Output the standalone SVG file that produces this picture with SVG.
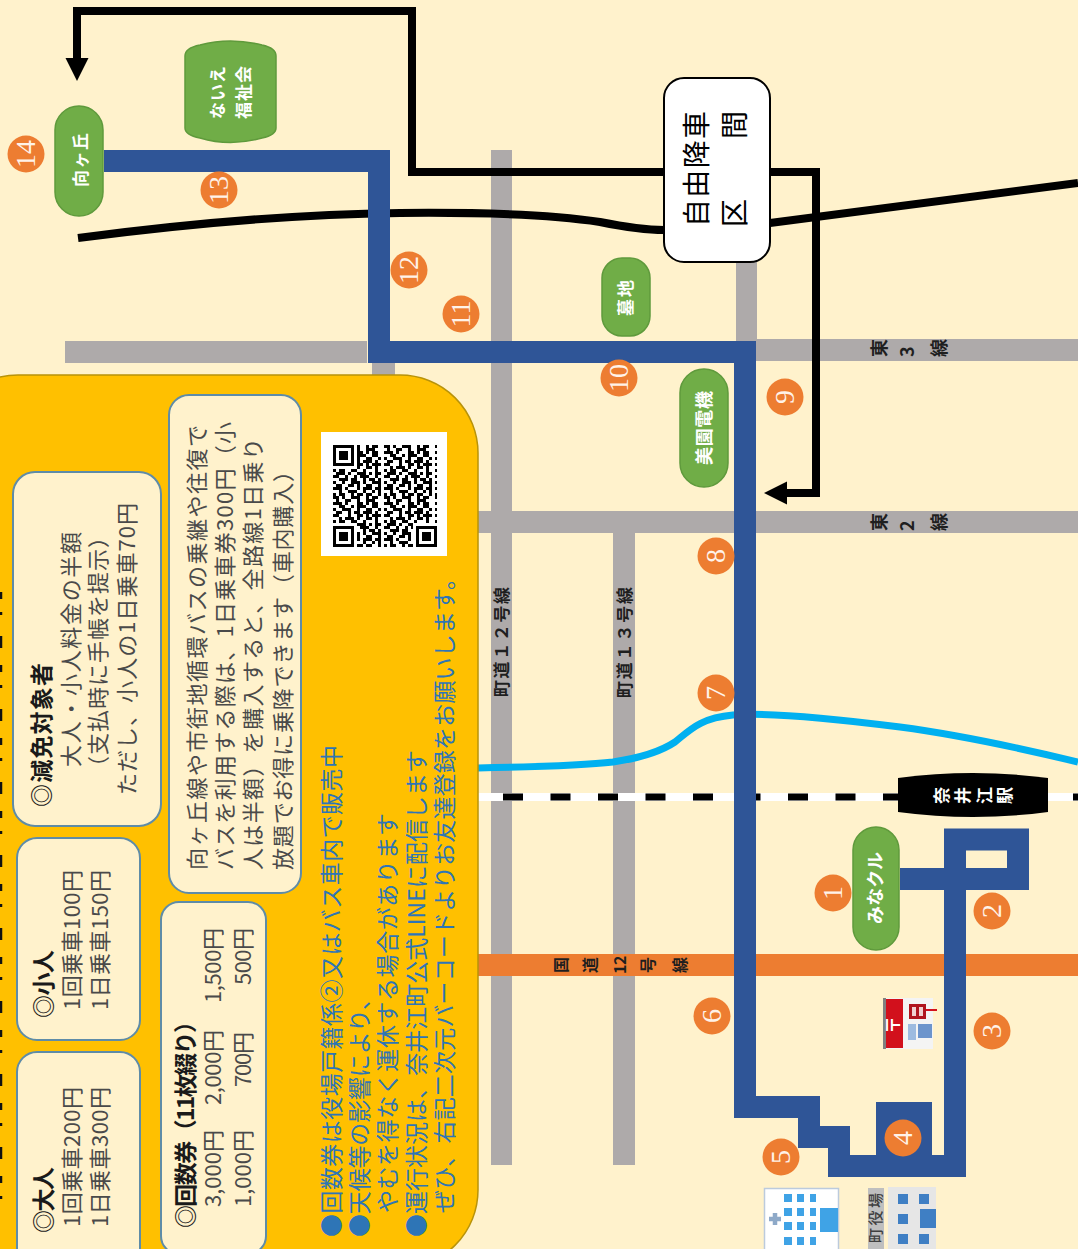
<svg xmlns="http://www.w3.org/2000/svg" width="1078" height="1249" viewBox="0 0 1078 1249">
<style>
text{font-family:"Noto Sans CJK JP","Noto Sans",sans-serif}
.road{fill:#AEAAAA}
.route{fill:none;stroke:#2F5597;stroke-width:22;stroke-linejoin:miter}
.blk{fill:none;stroke:#000;stroke-width:8}
.stop{fill:#70AD47;stroke:#5F9A3C;stroke-width:1.5}
.stxt{fill:#fff;font-weight:700}
.badge circle{fill:#ED7D31}
.badge text{fill:#FFF2E8;font-family:"Liberation Serif",serif;font-size:28px;text-anchor:middle}
.rl{fill:#1F1F1F;font-weight:700}
.box{fill:#FFF2CC;stroke:#5E8CA8;stroke-width:2}
.g{fill:#4A4A4A;font-size:22px}
.gb{fill:#1A1A1A;font-size:23px;font-weight:700}
.b{fill:#2E75B6;font-size:23px}
.win1{fill:#3FA3E6}
.win2{fill:#3F7FC4}
</style>
<defs>
<marker id="ah" markerUnits="userSpaceOnUse" markerWidth="24" markerHeight="24" refX="0" refY="11.5" orient="auto"><path d="M0 0L23 11.5L0 23z" fill="#000"/></marker>
<pattern id="qrp" patternUnits="userSpaceOnUse" x="333" y="445" width="51" height="51">
<path fill="none" stroke="#000" stroke-width="3" d="M0 1.5h6m3 0h3m6 0h9m6 0h3m3 0h6M3 4.5h3m6 0h6m6 0h3m6 0h9M0 7.5h9m3 0h3m9 0h6m3 0h3m3 0h6M6 10.5h6m6 0h3m3 0h9m6 0h6M0 13.5h3m6 0h9m6 0h3m6 0h6m6 0h3M3 16.5h6m6 0h3m3 0h6m3 0h9m3 0h3M0 19.5h6m9 0h3m6 0h6m3 0h3m3 0h9M6 22.5h3m3 0h9m3 0h3m6 0h6m3 0h3M0 25.5h3m3 0h6m6 0h6m6 0h3m9 0h3M3 28.5h9m3 0h3m6 0h9m3 0h3m3 0h6M0 31.5h6m6 0h3m6 0h3m3 0h9m6 0h3M6 34.5h9m3 0h6m6 0h3m3 0h6m3 0h3M0 37.5h3m6 0h3m6 0h9m3 0h3m6 0h9M3 40.5h6m6 0h6m3 0h3m6 0h6m6 0h3M0 43.5h9m3 0h3m9 0h3m3 0h9m3 0h6M6 46.5h3m6 0h9m6 0h3m6 0h3m3 0h3M0 49.5h3m3 0h6m6 0h3m3 0h6m3 0h6m6 0h3"/>
</pattern>
</defs>
<rect width="1078" height="1249" fill="#FFF2CC"/>

<g id="roads">
<rect class="road" x="491" y="150" width="21" height="1015"/>
<rect class="road" x="613" y="533" width="22" height="632"/>
<rect class="road" x="478" y="511" width="600" height="22"/>
<rect class="road" x="745" y="339" width="333" height="22"/>
<rect class="road" x="65" y="341" width="302" height="22"/>
<rect class="road" x="372" y="360" width="23" height="20"/>
<rect class="road" x="736" y="262" width="21" height="80"/>
<rect x="478" y="954" width="600" height="22" fill="#ED7D31"/>
<text class="rl" font-size="17" transform="translate(508,697) rotate(-90)" textLength="110">町道１２号線</text>
<text class="rl" font-size="17" transform="translate(631,698) rotate(-90)" textLength="111">町道１３号線</text>
<text class="rl" font-size="18" x="886 914 946" y="357" rotate="-90">東3線</text>
<text class="rl" font-size="18" x="886 914 946" y="531" rotate="-90">東2線</text>
<text class="rl" font-size="16" x="567 596 626 626 654 686" y="973 973 974 965 973 973" rotate="-90">国道12号線</text>
</g>

<g id="river"><path d="M478 768C530 767 580 766 613 762C640 758 660 752 675 742C690 730 700 718 733 715C770 712 830 718 900 727C960 735 1020 748 1078 762" fill="none" stroke="#00B0F0" stroke-width="7"/></g>

<g id="railway">
<rect x="478" y="793" width="600" height="8" fill="#fff"/>
<line x1="503" y1="797" x2="1078" y2="797" stroke="#000" stroke-width="7" stroke-dasharray="20 27.5"/>
</g>

<g id="connectors">
<path class="blk" d="M78 238C200 222 300 214 400 213C500 212 560 216 600 222C630 228 645 230 664 230"/>
<path class="blk" d="M770 223L1078 183"/>
<path class="blk" d="M816 172H412V11H77V58" marker-end="url(#ah)"/>
<path class="blk" d="M770 172H816V493H787" marker-end="url(#ah)"/>
<rect x="876" y="1102" width="56" height="55" fill="#2F5597"/>
<path class="route" d="M104 161H379V352H745V1107H809V1137H839V1166H955V839.500H1018V879H900"/>
</g>

<g id="panel">
<rect x="-60" y="375" width="538" height="893" rx="78" fill="#FFC000" stroke="#B8930A" stroke-width="1.5"/>
<path fill="none" stroke="#111" stroke-width="2.500" stroke-dasharray="7 13 3 21 12 17" d="M1 592V1215"/>
</g>

<g id="box-discount">
<rect class="box" x="13" y="472" width="148" height="354" rx="22"/>
<text class="gb" transform="translate(50,807) rotate(-90)" textLength="144">◎減免対象者</text>
<text class="g" transform="translate(79,767) rotate(-90)" textLength="235">大人・小人料金の半額</text>
<text class="g" transform="translate(106,778) rotate(-90)" textLength="252">（支払時に手帳を提示）</text>
<text class="g" transform="translate(135,795) rotate(-90)" textLength="292">ただし、小人の1日乗車70円</text>
</g>
<g id="box-child">
<rect class="box" x="17" y="838" width="123" height="202" rx="20"/>
<text class="gb" transform="translate(52,1018) rotate(-90)" textLength="68">◎小人</text>
<text class="g" transform="translate(80,1010) rotate(-90)" textLength="140">1回乗車100円</text>
<text class="g" transform="translate(108,1010) rotate(-90)" textLength="140">1日乗車150円</text>
</g>
<g id="box-adult">
<rect class="box" x="17" y="1052" width="123" height="220" rx="20"/>
<text class="gb" transform="translate(52,1233) rotate(-90)" textLength="66">◎大人</text>
<text class="g" transform="translate(80,1227) rotate(-90)" textLength="140">1回乗車200円</text>
<text class="g" transform="translate(108,1227) rotate(-90)" textLength="140">1日乗車300円</text>
</g>
<g id="box-tickets">
<rect class="box" x="161" y="902" width="105" height="352" rx="18"/>
<text class="gb" transform="translate(194,1228) rotate(-90)" textLength="218">◎回数券（11枚綴り）</text>
<text class="g" transform="translate(221,1207) rotate(-90)" textLength="77">3,000円</text>
<text class="g" transform="translate(221,1105) rotate(-90)" textLength="75">2,000円</text>
<text class="g" transform="translate(221,1003) rotate(-90)" textLength="75">1,500円</text>
<text class="g" transform="translate(251,1207) rotate(-90)" textLength="77">1,000円</text>
<text class="g" transform="translate(251,1087) rotate(-90)" textLength="55">700円</text>
<text class="g" transform="translate(251,985) rotate(-90)" textLength="57">500円</text>
</g>
<g id="box-info">
<rect class="box" x="169" y="395" width="132" height="498" rx="20"/>
<text class="g" transform="translate(205,870) rotate(-90)" textLength="445">向ヶ丘線や市街地循環バスの乗継や往復で</text>
<text class="g" transform="translate(233,870) rotate(-90)" textLength="448">バスを利用する際は、1日乗車券300円（小</text>
<text class="g" transform="translate(261,870) rotate(-90)" textLength="432">人は半額）を購入すると、全路線1日乗り</text>
<text class="g" transform="translate(291,870) rotate(-90)" textLength="410">放題でお得に乗降できます（車内購入）</text>
</g>
<g id="notes">
<text class="b" transform="translate(340,1237) rotate(-90)" textLength="492">●回数券は役場戸籍係②又はバス車内で販売中</text>
<text class="b" transform="translate(368,1237) rotate(-90)" textLength="250">●天候等の影響により、</text>
<text class="b" transform="translate(396,1213) rotate(-90)" textLength="400">やむを得なく運休する場合があります</text>
<text class="b" transform="translate(425,1237) rotate(-90)" textLength="487">●運行状況は、奈井江町公式LINEに配信します</text>
<text class="b" transform="translate(453,1213) rotate(-90)" textLength="646">ぜひ、右記二次元バーコードよりお友達登録をお願いします。</text>
</g>
<g id="qr">
<rect x="321" y="432" width="126" height="124" fill="#fff"/>
<rect x="333" y="445" width="104" height="102" fill="url(#qrp)"/>
<path fill="#fff" d="M333 445h24v24h-24zM333 523h24v24h-24zM413 523h24v24h-24z"/>
<path fill="#000" fill-rule="evenodd" d="M333 445h21v21h-21zM336 448v15h15v-15zM339 451h9v9h-9zM333 526h21v21h-21zM336 529v15h15v-15zM339 532h9v9h-9zM416 526h21v21h-21zM419 529v15h15v-15zM422 532h9v9h-9z"/>
</g>

<g id="stop-mukaigaoka"><rect class="stop" x="55" y="106" width="48" height="110" rx="24"/><text class="stxt" font-size="17" transform="translate(87,187) rotate(-90)" textLength="54">向ヶ丘</text></g>
<g id="stop-fukushikai"><path class="stop" d="M185 56Q185 48 200 45Q230 37 262 45Q276 48 276 56V128Q276 135 262 138Q230 147 200 138Q185 135 185 128Z"/><text class="stxt" font-size="17" transform="translate(224,119) rotate(-90)" textLength="53">ないえ</text><text class="stxt" font-size="17" transform="translate(250,119) rotate(-90)" textLength="53">福祉会</text></g>
<g id="stop-bochi"><rect class="stop" x="602" y="258" width="48" height="78" rx="20"/><text class="stxt" font-size="17" transform="translate(632,316) rotate(-90)" textLength="36">墓地</text></g>
<g id="stop-misono"><rect class="stop" x="680" y="369" width="48" height="118" rx="24"/><text class="stxt" font-size="18" transform="translate(711,465) rotate(-90)" textLength="74">美園電機</text></g>
<g id="stop-minakuru"><rect class="stop" x="853" y="827" width="46" height="123" rx="23"/><text class="stxt" font-size="18" transform="translate(882,924) rotate(-90)" textLength="72">みなクル</text></g>
<g id="station"><path d="M898 778Q973 768 1048 778V812Q973 822 898 812Z" fill="#000"/><text class="stxt" font-size="17" x="948 969 991 1011" y="804" rotate="-90">奈井江駅</text></g>
<g id="free-zone"><rect x="664" y="78" width="106" height="184" rx="20" fill="#fff" stroke="#000" stroke-width="2"/><text font-size="28" fill="#000" transform="translate(707,227) rotate(-90)" textLength="116">自由降車</text><text font-size="28" fill="#000" transform="translate(745,227) rotate(-90)" textLength="116">区　　間</text></g>

<g id="post-office"><rect x="883" y="998" width="50" height="51" fill="#F4F4F4"/><rect x="883" y="998" width="3" height="51" fill="#808080"/><rect x="886" y="999" width="17" height="49" fill="#D2101C"/><text transform="translate(900,1034) rotate(-90)" font-size="18" fill="#fff" font-weight="700">〒</text><rect x="909" y="1004" width="17" height="15" fill="#B0141E"/><rect x="912" y="1007" width="4" height="9" fill="#F0D0D0"/><rect x="919" y="1007" width="4" height="9" fill="#F0D0D0"/><path d="M926 1010H937" stroke="#D2101C" stroke-width="2"/><rect x="908" y="1024" width="8" height="16" fill="#9DBBE0"/><rect x="918" y="1024" width="14" height="14" fill="#6C94CC"/></g>
<g id="hospital"><rect x="764.500" y="1188.500" width="74" height="66" fill="#fff" stroke="#BCCBDD" stroke-width="1.500"/><path d="M775 1213v12M769 1219h12" stroke="#8EA9C8" stroke-width="4.500"/>
<g class="win1"><rect x="784" y="1194" width="8" height="8"/><rect x="797" y="1194" width="7" height="8"/><rect x="810" y="1194" width="6" height="8"/><rect x="784" y="1208" width="8" height="8"/><rect x="797" y="1208" width="7" height="8"/><rect x="810" y="1208" width="6" height="8"/><rect x="784" y="1222" width="8" height="8"/><rect x="797" y="1222" width="7" height="8"/><rect x="810" y="1222" width="6" height="8"/><rect x="784" y="1237" width="8" height="8"/><rect x="797" y="1237" width="7" height="8"/><rect x="810" y="1237" width="6" height="8"/><rect x="820" y="1208" width="18" height="24"/></g></g>
<g id="town-hall"><rect x="868" y="1188" width="16" height="61" fill="#BFBFBF"/><text transform="translate(881,1243) rotate(-90)" font-size="15" fill="#404040" font-weight="500" textLength="50">町役場</text><rect x="888" y="1187" width="48" height="62" fill="#E6E6E6"/><g class="win2"><rect x="898" y="1194" width="10" height="10"/><rect x="919" y="1194" width="10" height="10"/><rect x="898" y="1214" width="10" height="10"/><rect x="898" y="1234" width="10" height="10"/><rect x="919" y="1234" width="10" height="10"/><rect x="920" y="1209" width="16" height="19"/></g></g>

<g id="badges">
<g class="badge"><circle cx="833" cy="893" r="18.500"/><text transform="translate(842,893) rotate(-90)">1</text></g>
<g class="badge"><circle cx="992" cy="911" r="18.500"/><text transform="translate(1001,911) rotate(-90)">2</text></g>
<g class="badge"><circle cx="992" cy="1031" r="18.500"/><text transform="translate(1001,1031) rotate(-90)">3</text></g>
<g class="badge"><circle cx="903" cy="1138" r="18.500"/><text transform="translate(912,1138) rotate(-90)">4</text></g>
<g class="badge"><circle cx="781" cy="1157" r="18.500"/><text transform="translate(790,1157) rotate(-90)">5</text></g>
<g class="badge"><circle cx="712" cy="1016" r="18.500"/><text transform="translate(721,1016) rotate(-90)">6</text></g>
<g class="badge"><circle cx="716" cy="693" r="18.500"/><text transform="translate(725,693) rotate(-90)">7</text></g>
<g class="badge"><circle cx="716" cy="556" r="18.500"/><text transform="translate(725,556) rotate(-90)">8</text></g>
<g class="badge"><circle cx="785" cy="397" r="18.500"/><text transform="translate(794,397) rotate(-90)">9</text></g>
<g class="badge"><circle cx="619" cy="378" r="18.500"/><text transform="translate(628,378) rotate(-90)">10</text></g>
<g class="badge"><circle cx="461" cy="314" r="18.500"/><text transform="translate(470,314) rotate(-90)">11</text></g>
<g class="badge"><circle cx="409" cy="270" r="18.500"/><text transform="translate(418,270) rotate(-90)">12</text></g>
<g class="badge"><circle cx="219" cy="190" r="18.500"/><text transform="translate(228,190) rotate(-90)">13</text></g>
<g class="badge"><circle cx="26" cy="154" r="18.500"/><text transform="translate(35,154) rotate(-90)">14</text></g>
</g>
</svg>
